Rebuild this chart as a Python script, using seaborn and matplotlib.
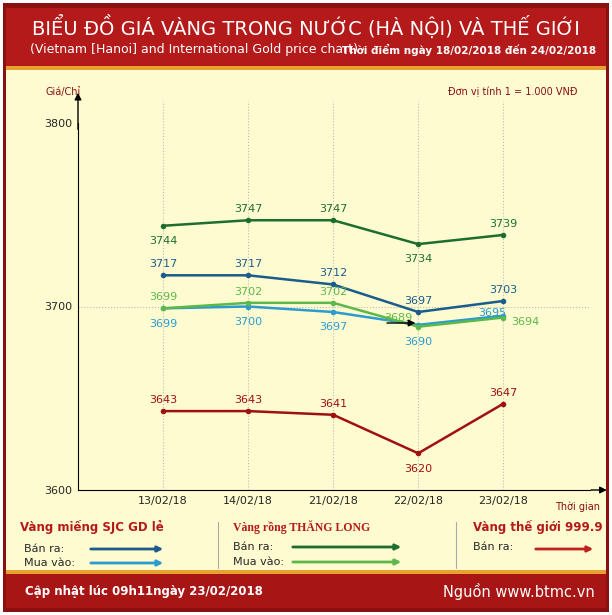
import matplotlib
matplotlib.use('Agg')
import matplotlib.pyplot as plt
import seaborn as sns
import pandas as pd
from matplotlib.patches import Rectangle, FancyArrowPatch

# Data
dates = ['13/02/18', '14/02/18', '21/02/18', '22/02/18', '23/02/18']
sjc_ban = [3717, 3717, 3712, 3697, 3703]
sjc_mua = [3699, 3700, 3697, 3690, 3695]
tl_ban = [3744, 3747, 3747, 3734, 3739]
tl_mua = [3699, 3702, 3702, 3689, 3694]
world_ban = [3643, 3643, 3641, 3620, 3647]

# label offsets (points) per series: (dx, dy)
series = [
    ('sjc_ban', sjc_ban, '#1a5c8c', [(0, 8)] * 5),
    ('sjc_mua', sjc_mua, '#2b9bd0', [(0, -11), (0, -11), (0, -11), (0, -12), (-8, 2)]),
    ('tl_ban', tl_ban, '#1d6e2e', [(0, -11), (0, 8), (0, 8), (0, -11), (0, 8)]),
    ('tl_mua', tl_mua, '#5cb84a', [(0, 8), (0, 8), (0, 8), (-14, 6), (16, -3)]),
    ('world', world_ban, '#a01010', [(0, 8), (0, 8), (0, 8), (0, -11), (0, 8)]),
]

sns.set_style('white')
plt.rcParams['font.family'] = ['DejaVu Sans']

fig = plt.figure(figsize=(6.12, 6.15), dpi=100)
fig.patch.set_facecolor('white')
W, H = 612, 615

def rect(x0, y0, x1, y1, color):
    fig.patches.append(Rectangle((x0 / W, 1 - y1 / H), (x1 - x0) / W, (y1 - y0) / H,
                                 transform=fig.transFigure, facecolor=color, edgecolor='none', zorder=-10))

rect(3, 3, 609, 612, '#8b1010')
rect(6, 8, 606, 66, '#b51a1a')
rect(6, 66, 606, 70, '#e8a030')
rect(6, 70, 606, 570, '#fffbd0')
rect(6, 570, 606, 574, '#e8a030')
rect(6, 574, 606, 608, '#a81515')

ax = fig.add_axes([78 / W, 1 - 490 / H, 512 / W, 367 / H])
ax.set_zorder(5)
ax.set_facecolor('none')
for name, vals, color, offs in series:
    df = pd.DataFrame({'x': range(len(dates)), 'y': vals})
    sns.lineplot(data=df, x='x', y='y', color=color, lw=1.8, marker='o', markersize=4,
                 markeredgewidth=0, ax=ax)
    for i, v in enumerate(vals):
        ax.annotate(str(v), (i, v), xytext=offs[i], textcoords='offset points',
                    ha='center', va='center', fontsize=8, color=color)

ax.set_xlim(-1, 5.02)
ax.set_ylim(3600, 3800)
ax.set_yticks([3600, 3700, 3800])
ax.set_yticklabels(['3600', '3700', '3800'], fontsize=8)
ax.set_xticks(range(len(dates)))
ax.set_xticklabels(dates, fontsize=8)
ax.set_xlabel('')
ax.set_ylabel('')
ax.tick_params(length=0, pad=4)
for x in range(len(dates)):
    ax.plot([x, x], [3600, 3812], color='#bbbbbb', ls=':', lw=0.8, zorder=0, clip_on=False)
ax.axhline(3700, color='#bbbbbb', ls=':', lw=0.8, zorder=0)
for s in ['top', 'right']:
    ax.spines[s].set_visible(False)
ax.spines['left'].set_color('black')
ax.spines['bottom'].set_color('black')
ax.annotate('', xy=(-1, 3818), xytext=(-1, 3795), arrowprops=dict(arrowstyle='-|>', color='black', lw=1),
            annotation_clip=False)
ax.annotate('', xy=(5.25, 3600), xytext=(5.0, 3600), arrowprops=dict(arrowstyle='-|>', color='black', lw=1),
            annotation_clip=False)
ax.annotate('', xy=(3.0, 3691), xytext=(2.6, 3691), arrowprops=dict(arrowstyle='-|>', color='black', lw=1))

# Texts
fig.text(0.5, 1 - 27 / H, 'BIỂU ĐỒ GIÁ VÀNG TRONG NƯỚC (HÀ NỘI) VÀ THẾ GIỚI', ha='center', va='center',
         color='white', fontsize=14)
fig.text(30 / W, 1 - 50 / H, '(Vietnam [Hanoi] and International Gold price chart)', ha='left', va='center',
         color='white', fontsize=9)
fig.text(596 / W, 1 - 50 / H, 'Thời điểm ngày 18/02/2018 đến 24/02/2018', ha='right', va='center',
         color='white', fontsize=7.5, fontweight='bold')
fig.text(45 / W, 1 - 92 / H, 'Giá/Chỉ', fontsize=7, color='#8b1010', va='center')
fig.text(578 / W, 1 - 92 / H, 'Đơn vị tính 1 = 1.000 VNĐ', fontsize=7, color='#8b1010', va='center', ha='right')
fig.text(600 / W, 1 - 507 / H, 'Thời gian', fontsize=7, color='#8b1010', va='center', ha='right')

def legend_line(x0, x1, y, color):
    fig.add_artist(FancyArrowPatch((x0 / W, 1 - y / H), (x1 / W, 1 - y / H), transform=fig.transFigure,
                                   arrowstyle='-|>', mutation_scale=8, color=color, lw=2))

fig.text(20 / W, 1 - 527 / H, 'Vàng miếng SJC GD lẻ', fontsize=8.5, color='#b51a1a', fontweight='bold', va='center')
fig.text(24 / W, 1 - 549 / H, 'Bán ra:', fontsize=8, va='center')
fig.text(24 / W, 1 - 563 / H, 'Mua vào:', fontsize=8, va='center')
legend_line(88, 166, 549, '#1a5c8c')
legend_line(88, 166, 563, '#2b9bd0')
fig.text(233 / W, 1 - 527 / H, 'Vàng rồng THĂNG LONG', fontsize=8.5, color='#b51a1a', fontweight='bold',
         va='center', family='Liberation Serif')
fig.text(233 / W, 1 - 547 / H, 'Bán ra:', fontsize=8, va='center')
fig.text(233 / W, 1 - 562 / H, 'Mua vào:', fontsize=8, va='center')
legend_line(290, 404, 547, '#1d6e2e')
legend_line(290, 404, 562, '#5cb84a')
fig.text(473 / W, 1 - 527 / H, 'Vàng thế giới 999.9', fontsize=8.5, color='#b51a1a', fontweight='bold', va='center')
fig.text(473 / W, 1 - 547 / H, 'Bán ra:', fontsize=8, va='center')
legend_line(533, 596, 549, '#c02020')
for xs in [218, 456]:
    fig.add_artist(plt.Line2D([xs / W, xs / W], [1 - 522 / H, 1 - 568 / H], transform=fig.transFigure,
                              color='#aaaaaa', lw=0.8))
fig.text(25 / W, 1 - 591 / H, 'Cập nhật lúc 09h11ngày 23/02/2018', fontsize=8.5, color='white',
         fontweight='bold', va='center')
fig.text(595 / W, 1 - 591 / H, 'Nguồn www.btmc.vn', fontsize=10.5, color='white', va='center', ha='right')

fig.savefig('out.png', dpi=100)
